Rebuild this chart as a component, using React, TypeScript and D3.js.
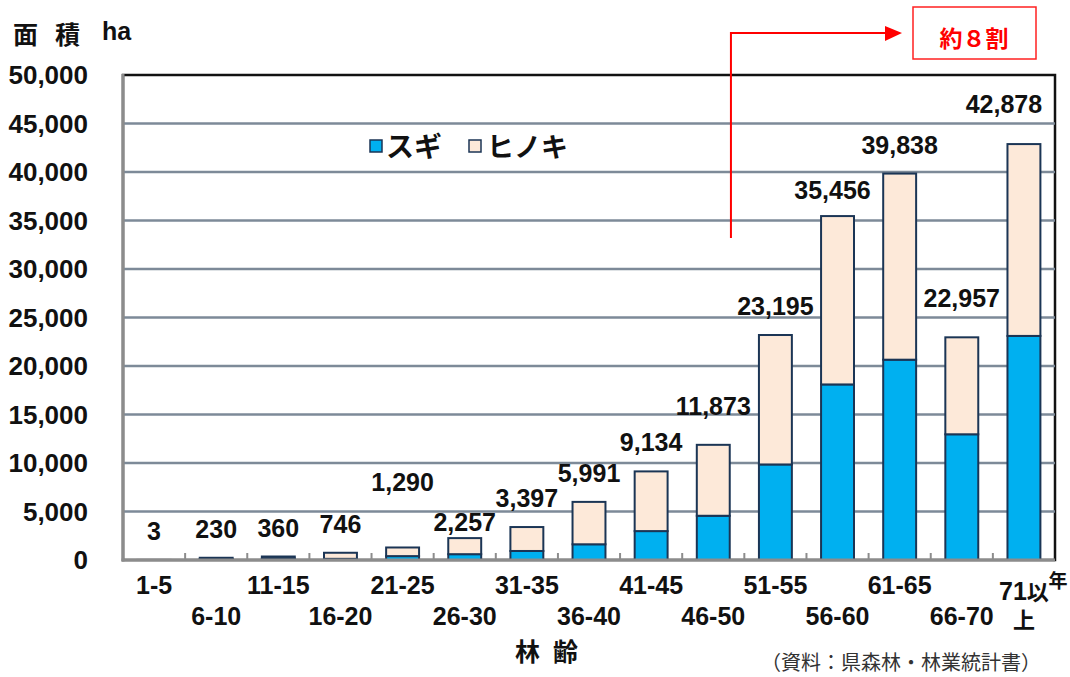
import React from "react";
import * as d3 from "d3";

// Age classes (years) of planted stands
const ageClasses = [
  "1-5", "6-10", "11-15", "16-20", "21-25", "26-30", "31-35", "36-40",
  "41-45", "46-50", "51-55", "56-60", "61-65", "66-70", "71以上",
];

// Area by species (ha)
const sugiArea = [2, 100, 150, 120, 400, 600, 930, 1620, 2980, 4560, 9850, 18100, 20650, 12960, 23100];
const hinokiArea = [1, 130, 210, 626, 890, 1657, 2467, 4371, 6154, 7313, 13345, 17356, 19188, 9997, 19778];

const yTicks = [0, 5000, 10000, 15000, 20000, 25000, 30000, 35000, 40000, 45000, 50000];

// Per-label nudges for the total labels: [dx, extra lift]
const labelNudge: [number, number][] = [
  [0, 0], [0, 0], [0, 0], [0, 0], [0, 36], [0, -13], [0, 0], [0, 0],
  [0, 0], [0, 10], [0, 0], [-5, -3], [0, 0], [0, 10], [-20, 11],
];

const W = 1070;
const H = 677;
const plot = { left: 123, right: 1055, top: 75, bottom: 560 };

const NUM_FONT = "'Liberation Sans', Arial, sans-serif";
const JP_FONT = "'Noto Sans CJK JP', 'Noto Sans', sans-serif";

const SUGI = "#00B0F0";
const HINOKI = "#FDE9D9";
const EDGE = "#1B3555";
const GRID = "#7D8A98";
const AXIS = "#8C8C8C";

export default function App() {
  const x = d3
    .scaleBand<string>()
    .domain(ageClasses)
    .range([plot.left, plot.right])
    .paddingInner(0.47)
    .paddingOuter(0.235);
  const y = d3.scaleLinear().domain([0, 50000]).range([plot.bottom, plot.top]);
  const fmt = d3.format(",");
  const step = x.step();
  const bw = x.bandwidth();

  const totals = ageClasses.map((_, i) => sugiArea[i] + hinokiArea[i]);
  const boundaries = d3.range(1, ageClasses.length).map((i) => plot.left + i * step);

  return (
    <svg
      width={W}
      height={H}
      style={{ position: "absolute", left: 0, top: 0, background: "#fff" }}
    >
      {/* plot frame */}
      <rect
        x={plot.left}
        y={plot.top}
        width={plot.right - plot.left}
        height={plot.bottom - plot.top}
        fill="#fff"
        stroke="#111"
        strokeWidth={2.5}
      />
      {/* horizontal grid */}
      {yTicks
        .filter((t) => t > 0 && t < 50000)
        .map((t) => (
          <line
            key={t}
            x1={plot.left}
            x2={plot.right}
            y1={y(t)}
            y2={y(t)}
            stroke={GRID}
            strokeWidth={2.5}
          />
        ))}

      {/* stacked bars */}
      {ageClasses.map((c, i) => {
        const x0 = x(c)!;
        const s = sugiArea[i];
        const h = hinokiArea[i];
        return (
          <g key={c}>
            <rect
              x={x0}
              y={y(s)}
              width={bw}
              height={y(0) - y(s)}
              fill={SUGI}
              stroke={EDGE}
              strokeWidth={2}
            />
            <rect
              x={x0}
              y={y(s + h)}
              width={bw}
              height={y(s) - y(s + h)}
              fill={HINOKI}
              stroke={EDGE}
              strokeWidth={2}
            />
          </g>
        );
      })}

      {/* axes */}
      <line x1={plot.left} x2={plot.left} y1={plot.top - 1} y2={plot.bottom + 1.5} stroke={AXIS} strokeWidth={3} />
      <line x1={plot.left - 1.5} x2={plot.right} y1={plot.bottom} y2={plot.bottom} stroke={AXIS} strokeWidth={3} />
      {boundaries.map((bx, i) => (
        <line key={i} x1={bx} x2={bx} y1={plot.bottom} y2={plot.bottom - 7} stroke={AXIS} strokeWidth={2} />
      ))}

      {/* y tick labels */}
      {yTicks.map((t) => (
        <text
          key={t}
          x={88}
          y={y(t)}
          dy="0.36em"
          textAnchor="end"
          fontFamily={NUM_FONT}
          fontWeight="bold"
          fontSize={26}
          fill="#111"
        >
          {fmt(t)}
        </text>
      ))}

      {/* total labels */}
      {ageClasses.map((c, i) => {
        const [dx, lift] = labelNudge[i];
        return (
          <text
            key={c}
            x={x(c)! + bw / 2 + dx}
            y={y(totals[i]) - 20 - lift}
            textAnchor="middle"
            fontFamily={NUM_FONT}
            fontWeight="bold"
            fontSize={25}
            fill="#111"
          >
            {fmt(totals[i])}
          </text>
        );
      })}

      {/* x category labels, staggered in two rows */}
      {ageClasses.map((c, i) => {
        const cx = x(c)! + bw / 2;
        if (c === "71以上") {
          return (
            <g key={c} fontFamily={NUM_FONT} fontWeight="bold" fontSize={25} fill="#111" textAnchor="middle">
              <text x={cx} y={600}>
                71<tspan fontFamily={JP_FONT} fontSize={22}>以</tspan>
              </text>
              <text x={cx} y={628} fontFamily={JP_FONT} fontSize={22}>
                上
              </text>
            </g>
          );
        }
        return (
          <text
            key={c}
            x={cx}
            y={i % 2 === 0 ? 594 : 625}
            textAnchor="middle"
            fontFamily={NUM_FONT}
            fontWeight="bold"
            fontSize={25}
            fill="#111"
          >
            {c}
          </text>
        );
      })}
      <text x={1058} y={588} textAnchor="middle" fontFamily={JP_FONT} fontWeight="bold" fontSize={19} fill="#111">
        年
      </text>

      {/* axis titles */}
      <text x={13} y={44} fontFamily={JP_FONT} fontWeight="bold" fontSize={25} fill="#111">
        面
      </text>
      <text x={55} y={44} fontFamily={JP_FONT} fontWeight="bold" fontSize={25} fill="#111">
        積
      </text>
      <text x={102} y={40} fontFamily={NUM_FONT} fontWeight="bold" fontSize={25} fill="#111">
        ha
      </text>
      <text x={515} y={661} fontFamily={JP_FONT} fontWeight="bold" fontSize={25} fill="#111">
        林
      </text>
      <text x={553} y={661} fontFamily={JP_FONT} fontWeight="bold" fontSize={25} fill="#111">
        齢
      </text>

      {/* legend */}
      <g>
        <rect x={370} y={140} width={12} height={12} fill={SUGI} stroke={EDGE} strokeWidth={1.5} />
        <text x={386} y={157} fontFamily={JP_FONT} fontWeight="bold" fontSize={28} fill="#111">
          スギ
        </text>
        <rect x={469} y={140} width={12} height={12} fill={HINOKI} stroke={EDGE} strokeWidth={1.5} />
        <text x={487} y={157} fontFamily={JP_FONT} fontWeight="bold" fontSize={27} fill="#111">
          ヒノキ
        </text>
      </g>

      {/* share annotation */}
      <path
        d={`M${x("51-55")! - 28},238 V33 H886`}
        fill="none"
        stroke="#FF0000"
        strokeWidth={2}
      />
      <path d="M885,26 L902,33 L885,41 Z" fill="#FF0000" />
      <rect x={913} y={7} width={123} height={52} fill="#fff" stroke="#FF2020" strokeWidth={1.5} />
      <text x={974} y={47} textAnchor="middle" fontFamily={JP_FONT} fontWeight="bold" fontSize={23} fill="#FF0000">
        約８割
      </text>

      {/* source */}
      <text x={1041} y={670} textAnchor="end" fontFamily={JP_FONT} fontSize={20} fill="#333">
        （資料：県森林・林業統計書）
      </text>
    </svg>
  );
}
